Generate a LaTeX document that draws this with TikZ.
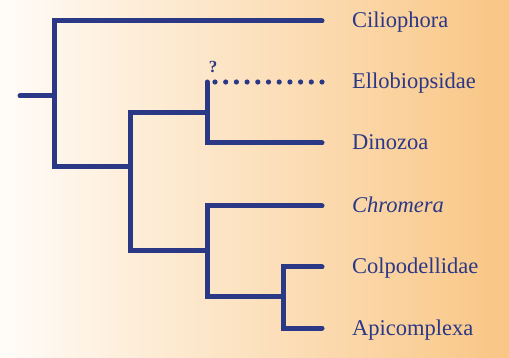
\documentclass[tikz,border=0pt]{standalone}
\usepackage{fontspec}
\setmainfont{Liberation Serif}
\definecolor{navy}{HTML}{2B3886}
\definecolor{peach}{HTML}{F9C684}
\definecolor{paper}{HTML}{FFFCF8}
\tikzset{
  branch/.style={draw=navy, line width=5pt, line cap=round, line join=miter},
  dotbranch/.style={draw=navy, line width=5.2pt, line cap=round, dash pattern=on 0pt off 10.7pt},
  taxon/.style={anchor=base west, inner sep=0pt, text=navy, font=\fontsize{22.5}{26}\selectfont},
}
\begin{document}
\begin{tikzpicture}[x=1pt,y=-1pt]
\shade[left color=paper, right color=peach, shading angle=90] (0,0) rectangle (509,358);
\useasboundingbox (0,0) rectangle (509,358);
% coordinates
\coordinate (r0) at (20,96);
\coordinate (r1) at (54,96);
\coordinate (cil) at (322,21);
\coordinate (a1) at (54,21);
\coordinate (a2) at (54,167);
\coordinate (b0) at (130,167);
\coordinate (b1) at (130,113);
\coordinate (b2) at (130,251);
\coordinate (c1) at (207,113);
\coordinate (c2) at (207,251);
\coordinate (ell0) at (207,82);
\coordinate (ell) at (322,82);
\coordinate (ellstart) at (214,82);
\coordinate (din0) at (207,143);
\coordinate (din) at (322,143);
\coordinate (chr0) at (207,206);
\coordinate (chr) at (322,206);
\coordinate (d0) at (207,297);
\coordinate (d1) at (283,297);
\coordinate (col0) at (283,267);
\coordinate (col) at (322,267);
\coordinate (api0) at (283,328);
\coordinate (api) at (322,328);
% branches
\draw[branch] (r0) -- (r1);
\draw[branch] (cil) -- (a1) -- (a2) -- (b0);
\draw[branch] (c1) -- (b1) -- (b2) -- (c2);
\draw[branch] (din) -- (din0) -- (ell0);
\draw[dotbranch] (ell) -- (ellstart);
\draw[branch] (chr) -- (chr0) -- (d0) -- (d1);
\draw[branch] (col) -- (col0) -- (api0) -- (api);
% labels
\node[taxon] (lcil) at (352,28) {Ciliophora};
\node[taxon] (lell) at (352,89) {Ellobiopsidae};
\node[taxon] (ldin) at (352,150) {Dinozoa};
\node[taxon] (lchr) at (352,213) {\itshape Chromera};
\node[taxon] (lcol) at (352,274) {Colpodellidae};
\node[taxon] (lapi) at (352,335) {Apicomplexa};
\node[anchor=base, inner sep=0pt, text=navy, font=\bfseries\fontsize{17}{19}\selectfont] (q) at (213,73) {?};
\end{tikzpicture}
\end{document}
